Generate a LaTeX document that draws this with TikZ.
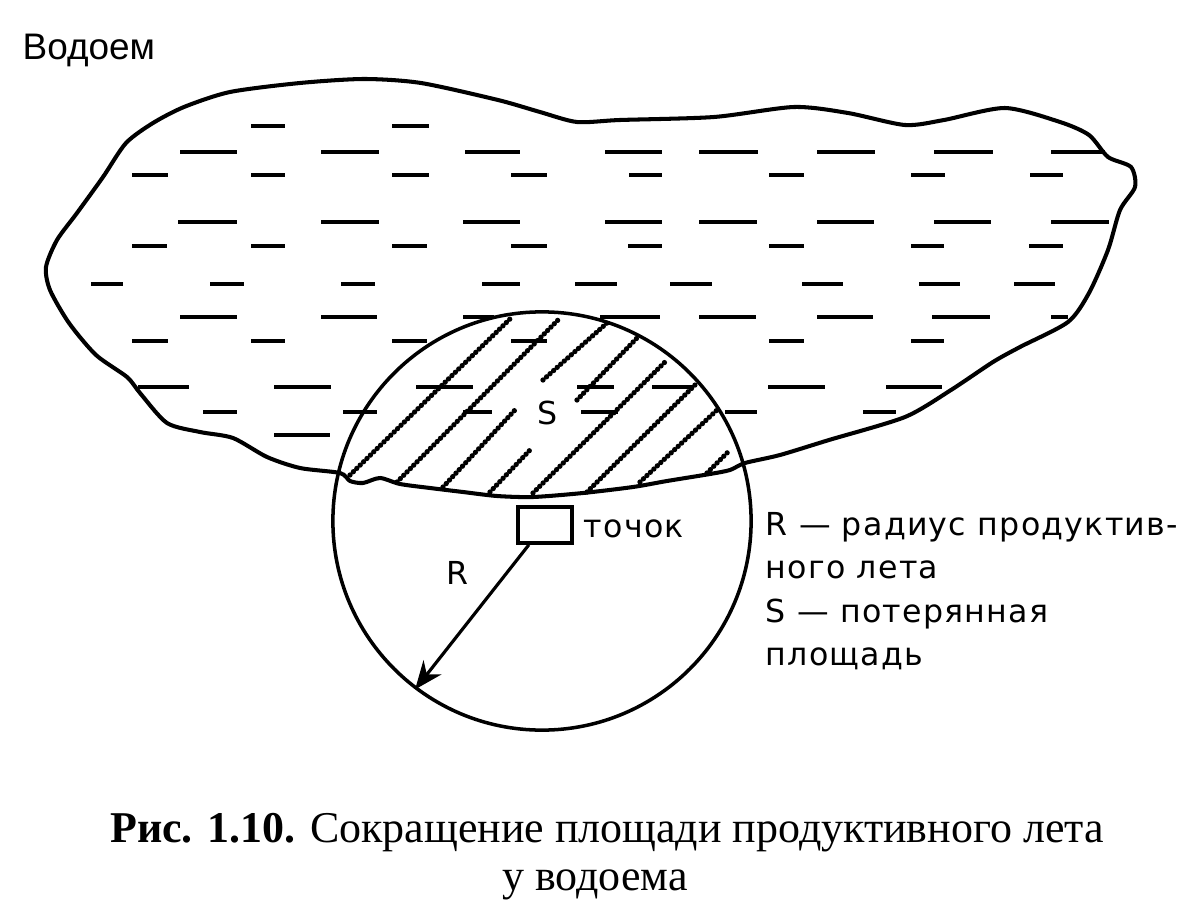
\documentclass[tikz,border=0pt]{standalone}
\usepackage{fontspec}
\setmainfont{Liberation Serif}
\setsansfont{Liberation Sans}
\newfontfamily\labfont[LetterSpace=4]{DejaVu Sans}
\usetikzlibrary{arrows.meta,calc}
\begin{document}
\begin{tikzpicture}[x=0.01cm,y=-0.01cm,
  outline/.style={line width=1.15pt, line join=round},
  dashline/.style={line width=0.95pt},
  hatchline/.style={line width=1.5pt, dash pattern=on 0pt off 1.35pt, line cap=round},
  lbl/.style={font=\labfont\fontsize{9}{11}\selectfont, inner sep=0pt},
  capt/.style={font=\fontsize{12.5}{14}\selectfont, inner sep=0pt}
]
\useasboundingbox (0,0) rectangle (1178,903);

% lake outline
\draw[outline] plot[smooth cycle, tension=0.45] coordinates {
 (126,143) (153,123) (184,107) (230,92) (300,83) (364,79) (421,83) (498,100)
 (540,112) (577,122) (620,120) (714,117) (794,107) (848,113) (905,125) (944,120)
 (1005,108) (1060,122) (1089,135) (1108,157) (1131,167) (1135,187) (1120,210)
 (1108,250) (1089,293) (1068,322) (1020,347) (993,362) (951,390) (905,417)
 (829,440) (780,455) (745,463) (730,470) (710,474) (667,481) (633,487) (583,493)
 (533,497) (497,496) (463,492) (430,488) (400,484) (380,478) (363,483) (350,481)
 (340,473) (300,468) (267,457) (233,438) (200,432) (167,423) (140,393) (127,377)
 (96,355) (69,323) (50,290) (46,267) (57,240) (77,213) (103,177)};

% water dashes
\foreach \y/\a/\b in {
 126/251/285, 126/392/429,
 152/180/237, 152/321/379, 152/465/520, 152/605/662, 152/699/758, 152/817/875, 152/934/993, 152/1051/1105,
 175/132/168, 175/251/285, 175/392/429, 175/511/547, 175/629/662, 175/769/804, 175/911/945, 175/1030/1063,
 222/178/237, 222/321/379, 222/463/520, 222/605/662, 222/699/757, 222/817/874, 222/934/991, 222/1051/1109,
 246/132/167, 246/251/285, 246/392/427, 246/511/547, 246/628/662, 246/769/804, 246/911/944, 246/1029/1063,
 284/91/123, 284/210/244, 284/341/375, 284/482/520, 284/575/617, 284/670/712, 284/802/843, 284/919/960, 284/1014/1055,
 317/180/237, 317/321/377, 317/463/494, 317/600/660, 317/699/756, 317/817/873, 317/932/990, 317/1051/1068,
 341/132/168, 341/251/285, 341/392/427, 341/511/547, 341/769/804, 341/911/944,
 387/138/189, 387/274/331, 387/416/473, 387/577/614, 387/652/693, 387/768/825, 387/886/942,
 412/203/237, 412/343/377, 412/463/492, 412/581/618, 412/725/757, 412/863/896,
 435/274/330}
 \draw[dashline] (\a,\y) -- (\b,\y);

% hatching of the lost area
\foreach \p/\q in {
 {(350,475)}/{(512,317)}, {(397,482)}/{(560,318)},
 {(443,487)}/{(515,410)}, {(543,380)}/{(607,323)},
 {(490,492)}/{(530,450)}, {(577,400)}/{(637,338)},
 {(533,493)}/{(667,360)}, {(587,492)}/{(697,383)},
 {(640,482)}/{(717,410)}, {(707,473)}/{(730,450)}}
 \draw[hatchline] \p -- \q;

% productive flight circle
\node[circle, draw, line width=1pt, minimum size=4.18cm, inner sep=0pt] (c) at (542,521) {};

% apiary box
\node[draw, line width=1pt, minimum width=0.54cm, minimum height=0.36cm, inner sep=0pt] (box) at (545,525) {};
\node[lbl, anchor=base west] (tch) at (583,537) {точок};

% radius arrow
\draw[line width=0.9pt, -{Stealth[length=8pt,width=6.5pt]}] ($(box.south west)!0.22!(box.south east)$) -- (c.233);

\node[lbl] (R) at (457,573) {R};
\node[lbl] (S) at (548,413) {S};

\node[inner sep=0pt, anchor=base west, font=\sffamily\fontsize{10.5}{12}\selectfont] (vod) at (22,60) {Водоем};

% legend
\node[lbl, anchor=base west] (l1) at (765,535) {R — радиус продуктив-};
\node[lbl, anchor=base west] (l2) at (765,578) {ного лета};
\node[lbl, anchor=base west] (l3) at (765,622) {S — потерянная};
\node[lbl, anchor=base west] (l4) at (765,665) {площадь};

% caption
\node[capt, anchor=base] (cap1) at (607,842) {\textbf{Рис. 1.10.} Сокращение площади продуктивного лета};
\node[capt, anchor=base] (cap2) at (595,890) {у водоема};
\end{tikzpicture}
\end{document}
